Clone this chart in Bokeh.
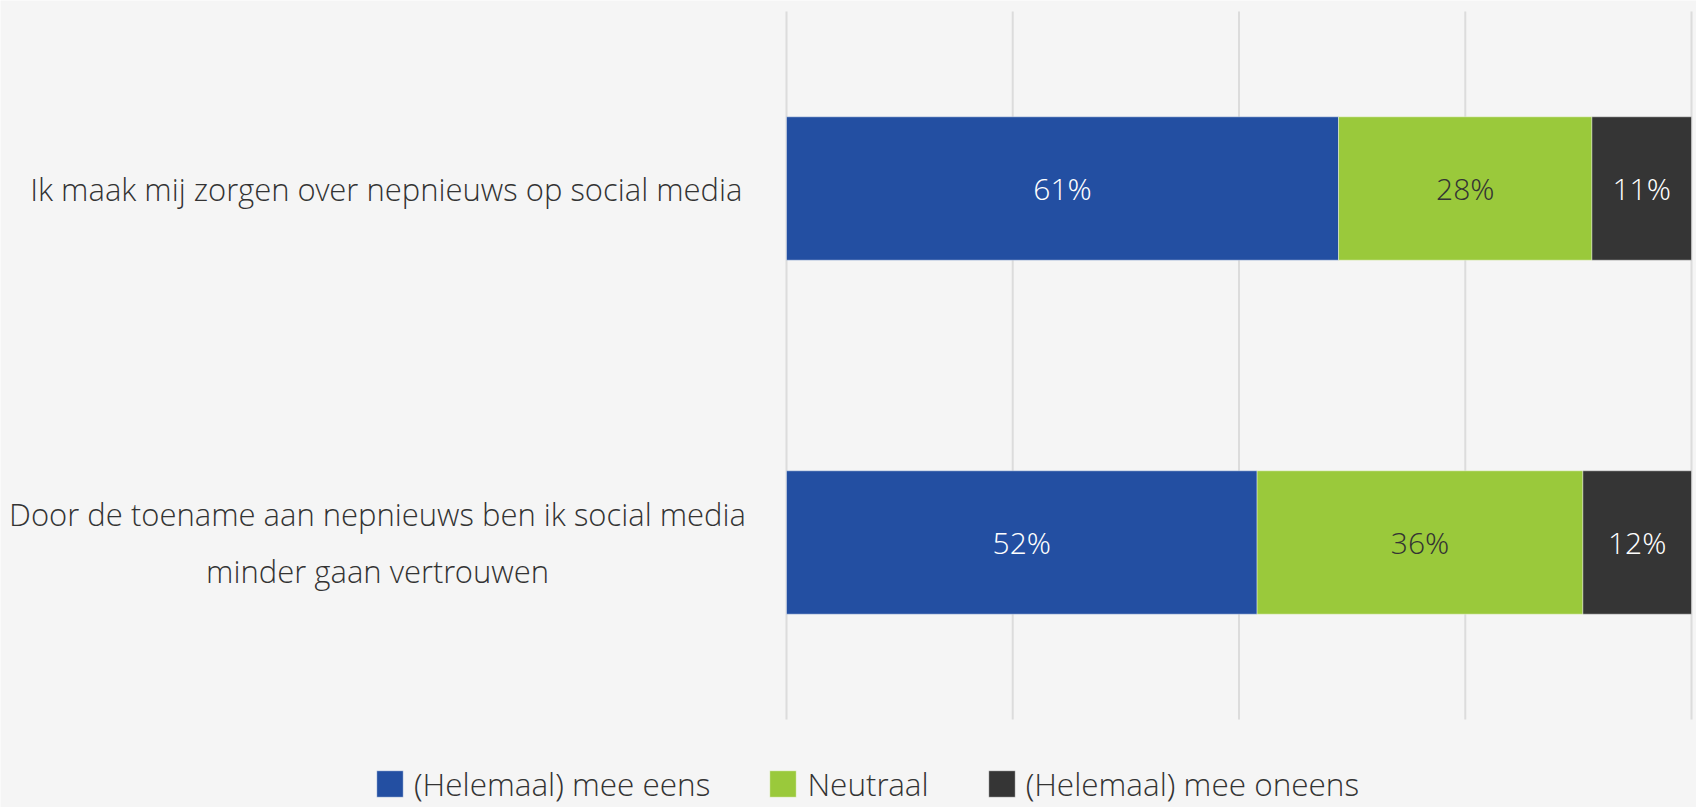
from bokeh.plotting import figure
from bokeh.models import ColumnDataSource, Range1d, Legend, LegendItem
from bokeh.core.properties import value
from bokeh.embed import file_html
from bokeh.resources import INLINE

# ---- data ----
statements = [
    "Ik maak mij zorgen over nepnieuws op social media",
    "Door de toename aan nepnieuws ben ik social media\nminder gaan vertrouwen",
]
series = ["(Helemaal) mee eens", "Neutraal", "(Helemaal) mee oneens"]
eens = [61, 52]
neutraal = [28, 36]
oneens = [11, 12]
grid_ticks = [0, 25, 50, 75, 100]

# ---- style / layout (pixels) ----
W, H = 1696, 807
X0_PX, X100_PX = 786, 1691          # screen x of 0 % and 100 %
GRID_TOP_PX, GRID_BOT_PX = 11, 719  # vertical extent of the plotting band
colors = ["#234fa2", "#9ac93b", "#353535"]
label_colors = ["#ffffff", "#333333", "#ffffff"]
BG = "#f5f5f5"
FONT = "Open Sans Light"
TXT = "#333333"

n = len(statements)
ppx = (X100_PX - X0_PX) / 100.0
ppy = (GRID_BOT_PX - GRID_TOP_PX) / float(n)
def xd(px):  # screen px -> data x
    return (px - X0_PX) / ppx

p = figure(
    width=W, height=H,
    x_range=Range1d(xd(0), xd(W)),
    y_range=Range1d(-(H - GRID_BOT_PX) / ppy, n + GRID_TOP_PX / ppy),
    x_axis_location=None, y_axis_location=None,
    output_backend="svg", toolbar_location=None,
    min_border=0,
)
p.background_fill_color = BG
p.border_fill_color = BG
p.outline_line_color = None
p.grid.visible = False

ypos = [n - 0.5 - i for i in range(n)]

# grid lines
p.segment(x0=grid_ticks, x1=grid_ticks, y0=[0] * len(grid_ticks), y1=[n] * len(grid_ticks),
          line_color="#dcdcdc", line_width=2)

keys = ["eens", "neutraal", "oneens"]
source = ColumnDataSource(dict(y=ypos, eens=eens, neutraal=neutraal, oneens=oneens))
renderers = p.hbar_stack(keys, y="y", height=0.405, color=colors,
                         line_color="#ffffff", line_alpha=0.4, line_width=1, source=source)

# data labels
values_by_series = [eens, neutraal, oneens]
xs, ys, texts, tcolors = [], [], [], []
for i in range(n):
    start = 0
    for j, vals in enumerate(values_by_series):
        v = vals[i]
        xs.append(start + v / 2)
        ys.append(ypos[i])
        texts.append(f"{v}%")
        tcolors.append(label_colors[j])
        start += v
lsrc = ColumnDataSource(dict(x=xs, y=ys, text=texts, color=tcolors))
p.text(x="x", y="y", text="text", text_color="color", source=lsrc,
       text_align="center", text_baseline="middle",
       text_font=value(FONT), text_font_size="30px")

# category labels (left)
p.text(x=[xd(742)], y=[ypos[0]], text=[statements[0]], text_align="right",
       text_baseline="middle", text_font=value(FONT), text_font_size="31px",
       text_color=TXT)
p.text(x=[xd(377)], y=[ypos[1]], text=[statements[1]], text_align="center",
       text_baseline="middle", text_font=value(FONT), text_font_size="31px",
       text_color=TXT, text_line_height=1.35)

legend = Legend(
    items=[LegendItem(label=s, renderers=[r]) for s, r in zip(series, renderers)],
    orientation="horizontal", location=(373, 2),
    glyph_width=33, glyph_height=33, label_standoff=8, spacing=56,
    label_text_font=FONT, label_text_font_size="31.5px", label_text_color=TXT,
    label_height=33,
    background_fill_alpha=0, border_line_alpha=0, padding=0, margin=0,
)
p.add_layout(legend, "center")

open("out.html", "w").write(file_html(p, INLINE))
